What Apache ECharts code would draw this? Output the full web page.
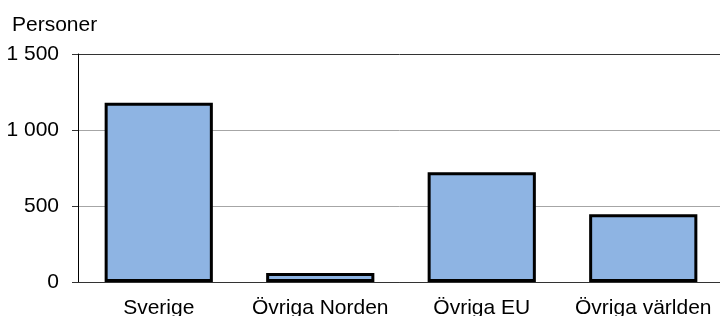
<!DOCTYPE html>
<html>
<head>
<meta charset="utf-8">
<script src="https://cdn.jsdelivr.net/npm/echarts@6/dist/echarts.min.js"></script>
<style>
  html, body { margin: 0; padding: 0; background: #fff; }
  #chart { width: 720px; height: 316px; }
</style>
</head>
<body>
<div id="chart"></div>
<script>
  var categories = ['Sverige', 'Övriga Norden', 'Övriga EU', 'Övriga världen']
  var personer = [1180, 60, 722, 445]
  var yTicks = { min: 0, max: 1500, interval: 500 }

  var font = '"Liberation Sans", Arial, sans-serif'

  var chart = echarts.init(document.getElementById('chart'))
  chart.setOption({
    animation: false,
    title: {
      text: 'Personer',
      left: 12,
      top: 15,
      padding: 0,
      textStyle: { fontFamily: font, fontSize: 21, fontWeight: 'normal', color: '#000' }
    },
    grid: {
      left: 78,
      top: 54,
      width: 646,
      bottom: 34,
      outerBoundsMode: 'none'
    },
    xAxis: {
      type: 'category',
      data: categories,
      axisLine: { lineStyle: { color: '#333', width: 1 } },
      axisTick: { show: false },
      axisLabel: {
        interval: 0,
        margin: 16,
        fontFamily: font,
        fontSize: 21,
        color: '#000'
      }
    },
    yAxis: {
      type: 'value',
      min: yTicks.min,
      max: yTicks.max,
      interval: yTicks.interval,
      axisLine: { show: true, lineStyle: { color: '#000', width: 1 } },
      axisTick: { show: true, length: 6, lineStyle: { color: '#333' } },
      axisLabel: {
        margin: 19,
        fontFamily: font,
        fontSize: 21,
        color: '#000',
        formatter: function (v) {
          return String(v).replace(/\B(?=(\d{3})+(?!\d))/g, ' ')
        }
      },
      splitLine: {
        show: true,
        lineStyle: { color: ['#333', '#a6a6a6', '#a6a6a6', '#333'], width: 1 }
      }
    },
    series: [
      {
        name: 'Personer',
        type: 'bar',
        barWidth: '67%',
        data: personer,
        itemStyle: {
          color: '#8eb4e3',
          borderColor: '#000',
          borderWidth: 3
        }
      }
    ]
  })
</script>
</body>
</html>
